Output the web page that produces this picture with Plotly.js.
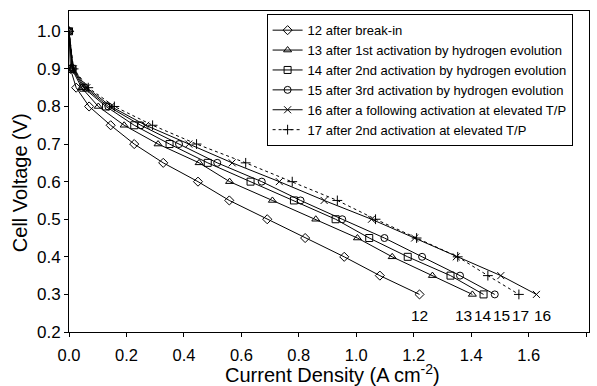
<!DOCTYPE html>
<html>
<head>
<meta charset="utf-8">
<script src="https://cdn.plot.ly/plotly-3.0.1.min.js"></script>
<style>html,body{margin:0;padding:0;background:#fff;}#chart{width:597px;height:386px;}</style>
</head>
<body>
<div id="chart"></div>
<script>
// Cell voltage levels (V)
var voltage = [1.0, 0.9, 0.85, 0.8, 0.75, 0.7, 0.65, 0.6, 0.55, 0.5, 0.45, 0.4, 0.35, 0.3];
// Current density (A cm^-2) for each run
var cd12 = [0, 0.005, 0.025, 0.070, 0.145, 0.227, 0.328, 0.449, 0.558, 0.690, 0.822, 0.958, 1.082, 1.220];
var cd13 = [0, 0.010, 0.044, 0.102, 0.192, 0.310, 0.453, 0.559, 0.708, 0.859, 1.004, 1.125, 1.265, 1.404];
var cd14 = [0, 0.012, 0.050, 0.129, 0.227, 0.350, 0.483, 0.632, 0.783, 0.928, 1.045, 1.179, 1.328, 1.443];
var cd15 = [0, 0.013, 0.056, 0.137, 0.250, 0.383, 0.516, 0.671, 0.806, 0.951, 1.098, 1.229, 1.361, 1.482];
var cd16 = [0, 0.015, 0.062, 0.146, 0.267, 0.417, 0.568, 0.732, 0.888, 1.053, 1.203, 1.348, 1.503, 1.627];
var cd17 = [0, 0.016, 0.067, 0.158, 0.291, 0.444, 0.615, 0.777, 0.934, 1.067, 1.210, 1.353, 1.458, 1.566];

var seriesNames = [
  "12 after break-in",
  "13 after 1st activation by hydrogen evolution",
  "14 after 2nd activation by hydrogen evolution",
  "15 after 3rd activation by hydrogen evolution",
  "16 after a following activation at elevated T/P",
  "17 after 2nd activation at elevated T/P"
];
var endLabels = ["12", "13", "14", "15", "16", "17"];
var labelVoltage = 0.245;

var xTicks = [0, 0.2, 0.4, 0.6, 0.8, 1.0, 1.2, 1.4, 1.6, 1.8];
var xTickText = ["0.0", "0.2", "0.4", "0.6", "0.8", "1.0", "1.2", "1.4", "1.6", "1.8"];
var yTicks = [0.2, 0.3, 0.4, 0.5, 0.6, 0.7, 0.8, 0.9, 1.0];
var yTickText = ["0.2", "0.3", "0.4", "0.5", "0.6", "0.7", "0.8", "0.9", "1.0"];
var xTitle = "Current Density (A cm<sup>-2</sup>)";
var yTitle = "Cell Voltage (V)";

var seriesData = [cd12, cd13, cd14, cd15, cd16, cd17];
var symbols = ["diamond-open", "triangle-up-open", "square-open", "circle-open", "x-thin-open", "cross-thin-open"];
var dashes = ["solid", "solid", "solid", "solid", "solid", "dot"];
var labelShift = [0, -9, -1, 7, 6, 2];
var FONT = "Liberation Sans, Arial, sans-serif";

var traces = seriesData.map(function (xs, i) {
  return {
    x: xs, y: voltage, name: seriesNames[i], type: "scatter", mode: "lines+markers",
    line: {color: "#000", width: 1, dash: dashes[i]},
    marker: {symbol: symbols[i], size: 7, color: "#000", line: {color: "#000", width: 1}}
  };
});

var annotations = seriesData.map(function (xs, i) {
  return {
    x: xs[xs.length - 1], y: labelVoltage, xref: "x", yref: "y",
    text: endLabels[i], showarrow: false, xshift: labelShift[i], borderpad: 0,
    font: {family: FONT, size: 15.5, color: "#000"}
  };
});
annotations.push({
  x: -0.094, y: 0.464, xref: "paper", yref: "paper", xanchor: "center", yanchor: "middle",
  text: yTitle, textangle: -90, showarrow: false,
  font: {family: FONT, size: 20, color: "#000"}
});
annotations.push({
  x: 0.506, y: -0.172, xref: "paper", yref: "paper", xanchor: "center", yanchor: "bottom",
  text: xTitle, showarrow: false, borderpad: 0,
  font: {family: FONT, size: 20, color: "#000"}
});

var layout = {
  width: 597, height: 386,
  margin: {l: 69, r: 8, t: 11, b: 54},
  paper_bgcolor: "#fff", plot_bgcolor: "#fff",
  font: {family: FONT, color: "#000"},
  showlegend: true,
  legend: {
    x: 0.38, y: 0.99, xanchor: "left", yanchor: "top",
    bgcolor: "#fff", bordercolor: "#000", borderwidth: 1,
    font: {size: 13, color: "#000"}, itemwidth: 30, tracegroupgap: 0
  },
  xaxis: {
    range: [0, 1.81], tickvals: xTicks, ticktext: xTickText,
    showgrid: false, zeroline: false, showline: true, linecolor: "#000", linewidth: 1, mirror: true,
    ticks: "outside", ticklen: 4, tickcolor: "#000", ticklabelstandoff: 4,
    tickfont: {size: 16.5}
  },
  yaxis: {
    range: [0.2, 1.054], tickvals: yTicks, ticktext: yTickText,
    showgrid: false, zeroline: false, showline: true, linecolor: "#000", linewidth: 1, mirror: true,
    ticks: "outside", ticklen: 4, tickcolor: "#000",
    tickfont: {size: 17}
  },
  annotations: annotations
};

Plotly.newPlot("chart", traces, layout, {staticPlot: true, displayModeBar: false});
</script>
</body>
</html>
